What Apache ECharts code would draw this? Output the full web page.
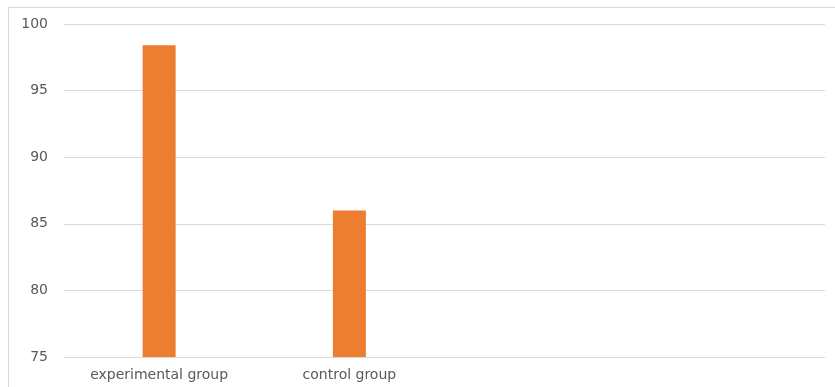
<!DOCTYPE html>
<html>
<head>
<meta charset="utf-8">
<script src="https://cdn.jsdelivr.net/npm/echarts@6/dist/echarts.min.js"></script>
<style>
  html, body { margin: 0; padding: 0; background: #fff; overflow: hidden; }
  #frame {
    position: absolute; left: 8px; top: 7px;
    width: 840px; height: 400px;
    border: 1px solid #d9d9d9;
    box-sizing: border-box;
  }
  #main { position: absolute; left: 0; top: 0; width: 835px; height: 387px; }
</style>
</head>
<body>
<div id="frame"></div>
<div id="main"></div>
<script>
// categories (the last two slots are empty in the source chart)
const categories = ['experimental group', 'control group', '', ''];
const scores = [98.4, 86, null, null];

const chart = echarts.init(document.getElementById('main'));
const option = {
  animation: false,
  grid: { left: 64, right: 10, top: 24, bottom: 30 },
  xAxis: {
    type: 'category',
    data: categories,
    axisLine: { show: false },
    axisTick: { show: false },
    axisLabel: {
      color: '#595959', fontSize: 14, margin: 11,
      fontFamily: 'DejaVu Sans, sans-serif'
    }
  },
  yAxis: {
    type: 'value',
    min: 75, max: 100, interval: 5,
    axisLine: { show: false },
    axisTick: { show: false },
    axisLabel: {
      color: '#595959', fontSize: 14, margin: 16,
      fontFamily: 'DejaVu Sans, sans-serif'
    },
    splitLine: { lineStyle: { color: '#d9d9d9', width: 1 } }
  },
  series: [
    {
      type: 'bar',
      data: scores,
      barWidth: 33,
      itemStyle: { color: '#ED7D31' }
    }
  ]
};
chart.setOption(option);
</script>
</body>
</html>
